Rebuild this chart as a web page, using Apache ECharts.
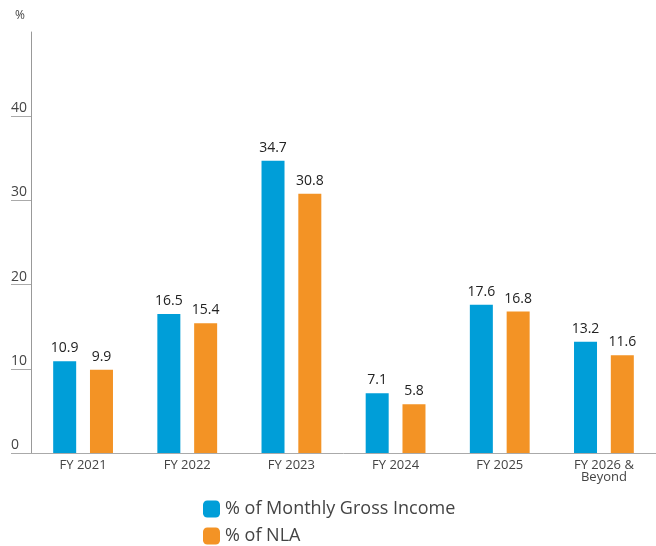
<!DOCTYPE html>
<html>
<head>
<meta charset="utf-8">
<script src="https://cdn.jsdelivr.net/npm/echarts@6/dist/echarts.min.js"></script>
<style>
  html, body { margin: 0; padding: 0; background: #fff; }
  #chart { width: 656px; height: 546px; }
</style>
</head>
<body>
<div id="chart"></div>
<script>
const categories = ['FY 2021', 'FY 2022', 'FY 2023', 'FY 2024', 'FY 2025', 'FY 2026 &\nBeyond']
const grossIncome = [10.9, 16.5, 34.7, 7.1, 17.6, 13.2]
const nla = [9.9, 15.4, 30.8, 5.8, 16.8, 11.6]
const yTicks = [0, 10, 20, 30, 40]

const fontFamily = '"Open Sans", Lato, sans-serif'
const chart = echarts.init(document.getElementById('chart'))

const valueLabel = {
  show: true,
  position: 'top',
  distance: 6,
  color: '#222',
  fontSize: 14,
  fontFamily: fontFamily,
  formatter: p => p.value.toFixed(1)
}

const option = {
  animation: false,
  title: {
    text: '%',
    left: 10,
    top: 5,
    textStyle: { fontSize: 12, fontWeight: 'normal', color: '#444', fontFamily: fontFamily }
  },
  legend: {
    orient: 'vertical',
    left: 198,
    top: 495,
    height: 60,
    icon: 'roundRect',
    itemWidth: 17,
    itemHeight: 17,
    itemGap: 9,
    textStyle: { fontSize: 18, color: '#444', fontFamily: fontFamily }
  },
  grid: {
    left: 31,
    right: 0,
    top: 32,
    bottom: 93
  },
  xAxis: {
    type: 'category',
    data: categories,
    axisLine: { lineStyle: { color: '#aaa', width: 1 } },
    axisTick: { show: false },
    axisLabel: {
      color: '#444',
      fontSize: 13,
      lineHeight: 12,
      margin: 6,
      fontFamily: fontFamily
    }
  },
  yAxis: {
    type: 'value',
    min: 0,
    max: 50,
    interval: 10,
    splitLine: { show: false },
    axisLine: { show: true, lineStyle: { color: '#999', width: 1 } },
    axisTick: {
      show: true,
      length: 20,
      customValues: yTicks,
      lineStyle: { color: '#aaa' }
    },
    axisLabel: {
      customValues: yTicks,
      align: 'left',
      verticalAlign: 'bottom',
      margin: 20,
      padding: [0, 0, 1, 0],
      color: '#444',
      fontSize: 14,
      fontFamily: fontFamily
    }
  },
  series: [
    {
      name: '% of Monthly Gross Income',
      type: 'bar',
      data: grossIncome,
      barWidth: 23,
      barGap: '60%',
      itemStyle: { color: '#009ed8' },
      label: valueLabel
    },
    {
      name: '% of NLA',
      type: 'bar',
      data: nla,
      barWidth: 23,
      itemStyle: { color: '#f39325' },
      label: valueLabel
    }
  ]
}

chart.setOption(option)
</script>
</body>
</html>
